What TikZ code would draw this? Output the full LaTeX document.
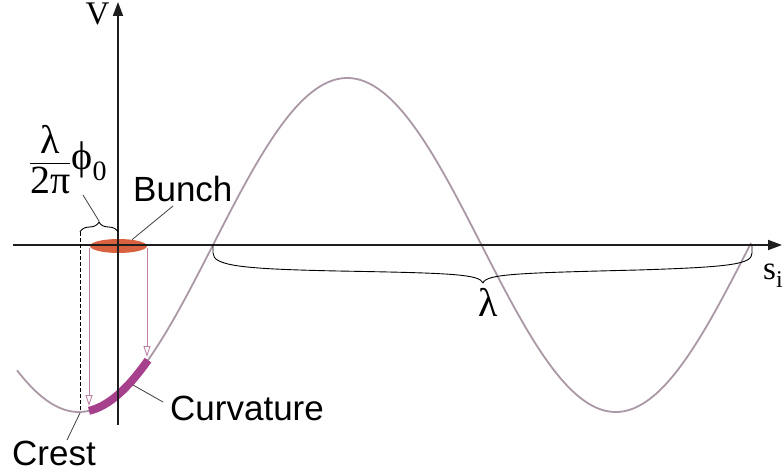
\documentclass[tikz,border=0pt]{standalone}
\usepackage{amsmath}
\usepackage{fontspec}
\setmainfont{Liberation Serif}
\newfontfamily\sanslabel{Liberation Sans}
\usetikzlibrary{arrows.meta,positioning,calc,shapes.geometric,decorations.pathreplacing}

\definecolor{wavegray}{RGB}{170,152,166}
\definecolor{bunchred}{RGB}{216,98,64}
\definecolor{curvpurple}{RGB}{166,64,140}
\definecolor{droppink}{RGB}{188,128,164}
\definecolor{axisblack}{RGB}{30,30,30}

\begin{document}
\begin{tikzpicture}[x=1pt,y=1pt,
    axis/.style={line width=1.8pt, draw=axisblack, -{Triangle[length=14pt,width=10pt]}},
    wave/.style={line width=1.8pt, draw=wavegray},
    drop/.style={line width=0.9pt, draw=droppink, -{Triangle[open,length=11pt,width=7pt]}},
    leader/.style={line width=0.8pt, draw=axisblack!85},
    txt/.style={inner sep=0pt, font=\fontsize{35}{40}\selectfont\sanslabel},
    mathtxt/.style={inner sep=0pt, font=\fontsize{33}{38}\selectfont}]
        \useasboundingbox (-118,-231) rectangle (666,245);
        % \draw[help lines, gray!50, very thin] (-118,-231) grid[step=20pt] (666,245);

        % wave and curvature part
        \draw[wave] plot[domain=-101:633, samples=240, smooth] (\x,{167*sin((\x-95)/537*360)});
        \draw[curvpurple, line width=8pt] plot[domain=-29:30, samples=40, smooth] (\x,{167*sin((\x-95)/537*360)});

        % bunch
        \node[ellipse, fill=bunchred, minimum width=57pt, minimum height=14pt, inner sep=0pt] (bunch) at (0.5,-1) {};
        \coordinate (dropL) at (-29,-3);
        \coordinate (dropR) at (29,-3);
        \coordinate (crestL) at (-29,-161);
        \coordinate (crestR) at (29,-112);
        \draw[drop] (dropL) -- (crestL);
        \draw[drop] (dropR) -- (crestR);

        % axes
        \draw[axis] (-105,0) -- (664,0);
        \draw[axis] (0,-180) -- (0,243);
        \node[mathtxt, anchor=base] (vlabel) at (-20.5,220) {V};
        \node[mathtxt, anchor=base west] (slabel) at (645,-35) {s\raisebox{-8pt}{\fontsize{24}{26}\selectfont i}};

        % phase offset
        \draw[line width=0.9pt, decorate, decoration={brace, amplitude=10pt}] (-38,13) -- (0,13);
        \draw[line width=0.9pt, dash pattern=on 4pt off 2pt] (-38,13) -- (-38,-166);
        \coordinate (smalltip) at (-19,24);
        \coordinate (phaseend) at (-35,50);
        \node[mathtxt, font=\fontsize{40}{44}\selectfont, anchor=base] (phaselabel) at (-50,75) {$\dfrac{\text{λ}}{\text{2π}}\text{ϕ}_{\text{0}}$};
        \draw[leader] (smalltip) -- (phaseend);

        % wavelength
        \coordinate (bracetip) at (365,-38);
        \draw[line width=0.9pt] (95,0) -- (95,-8) .. controls (95,-21) and (125,-24) .. (220,-26) .. controls (330,-28) and (362,-29) .. (bracetip);
        \draw[line width=0.9pt] (634,0) -- (634,-8) .. controls (634,-19) and (615,-22) .. (520,-25) .. controls (400,-28) and (368,-29) .. (bracetip);
        \node[mathtxt, font=\fontsize{40}{44}\selectfont, anchor=north] (lambdalabel) at (370,-43) {λ};

        % labels
        \node[txt, anchor=base west] (bunchlabel) at (15,43) {Bunch};
        \draw[leader] (bunch.25) -- ($(bunchlabel.base west)+(40,-4)$);

        \coordinate (curvpt) at (15,-140);
        \node[txt, anchor=base west] (curvlabel) at (52,-175) {Curvature};
        \draw[leader] (curvpt) -- ($(curvlabel.base west)+(-7,18)$);

        \coordinate (crestpt) at (-38,-168);
        \node[txt, anchor=base west] (crestlabel) at (-106,-220) {Crest};
        \draw[leader] (crestpt) -- ($(crestlabel.base west)+(55,25)$);
\end{tikzpicture}
\end{document}
